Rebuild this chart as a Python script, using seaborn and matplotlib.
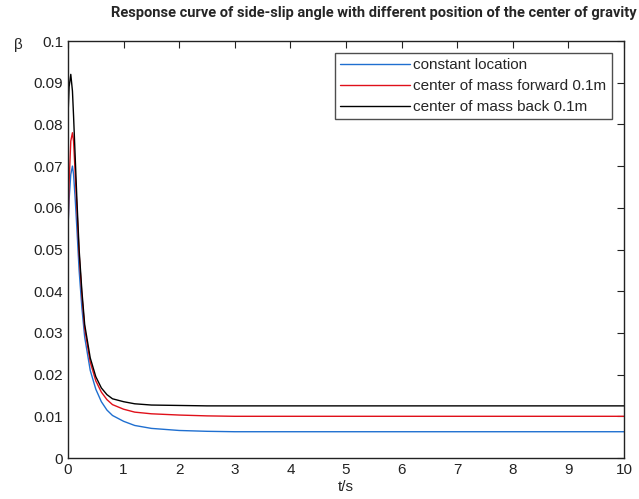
import numpy as np
import pandas as pd
import matplotlib
matplotlib.use("Agg")
import matplotlib.pyplot as plt
import seaborn as sns

t = [0, 0.02, 0.05, 0.08, 0.1, 0.13, 0.16, 0.2, 0.25, 0.3, 0.4, 0.5, 0.6, 0.7,
     0.8, 1.0, 1.2, 1.5, 2.0, 2.5, 3, 4, 5, 6, 7, 8, 9, 10]
beta_const = [0.055, 0.062, 0.068, 0.070, 0.068, 0.062, 0.055, 0.045, 0.036, 0.029,
              0.021, 0.0165, 0.0135, 0.0115, 0.0102, 0.0088, 0.0078, 0.0071, 0.0066,
              0.0064, 0.0063, 0.0063, 0.0063, 0.0063, 0.0063, 0.0063, 0.0063, 0.0063]
beta_fwd = [0.054, 0.066, 0.076, 0.078, 0.076, 0.068, 0.060, 0.049, 0.039, 0.031,
            0.023, 0.0185, 0.0158, 0.0140, 0.0128, 0.0117, 0.0110, 0.0106, 0.0103,
            0.0101, 0.0100, 0.0100, 0.0100, 0.0100, 0.0100, 0.0100, 0.0100, 0.0100]
beta_back = [0.082, 0.089, 0.092, 0.088, 0.082, 0.072, 0.062, 0.050, 0.040, 0.032,
             0.024, 0.0195, 0.0168, 0.0152, 0.0142, 0.0135, 0.0130, 0.0127, 0.0126,
             0.0125, 0.0125, 0.0125, 0.0125, 0.0125, 0.0125, 0.0125, 0.0125, 0.0125]
labels = ["constant location", "center of mass forward 0.1m", "center of mass back 0.1m"]
colors = ["#1f6fd0", "#e0101a", "#000000"]
title = "Response curve of side-slip angle with different position of the center of gravity"

df = pd.concat([
    pd.DataFrame({"t": t, "beta": b, "series": lab})
    for b, lab in zip([beta_const, beta_fwd, beta_back], labels)
])

sns.set_style("white")
plt.rcParams["font.family"] = ["Liberation Sans", "DejaVu Sans"]

fig = plt.figure(figsize=(6.39, 4.99), dpi=100)
ax = fig.add_axes([68/639, 41/499, 556/639, 417/499])
sns.lineplot(data=df, x="t", y="beta", hue="series", hue_order=labels,
             palette=colors, linewidth=1.0, ax=ax)

ax.set_xlim(0, 10)
ax.set_ylim(0, 0.1)
ax.set_xticks(range(0, 11))
ax.set_yticks(np.round(np.arange(0, 0.101, 0.01), 2))
ax.set_yticklabels(["0"] + [f"{v:.2f}" for v in np.arange(0.01, 0.1, 0.01)] + ["0.1"])
ax.tick_params(direction="in", top=True, right=True, length=5, labelsize=11,
               colors="#222222", width=0.8)
for s in ax.spines.values():
    s.set_color("#222222")
    s.set_linewidth(1.0)
ax.set_xlabel("t/s", fontsize=11, labelpad=2)
ax.set_ylabel("")
fig.text(14/639, 1 - 45/499, "β", fontsize=11, ha="left", va="center")
ttl = fig.text(374/639, 1 - 13/499, title, fontsize=12, fontweight="bold",
               ha="center", va="center",
               family=["Liberation Sans Narrow", "Roboto", "DejaVu Sans"])
fig.canvas.draw()
w = ttl.get_window_extent(fig.canvas.get_renderer()).width
ttl.set_fontsize(12 * 522 / w)

leg = ax.legend(loc="upper left", bbox_to_anchor=(0.466, 0.99), frameon=True,
                fancybox=False, edgecolor="#222222", fontsize=11,
                handlelength=4.6, handletextpad=0.2, borderpad=0.35,
                labelspacing=0.45, title=None)
leg.get_frame().set_linewidth(1.0)
fig.savefig("out.png", dpi=100)
